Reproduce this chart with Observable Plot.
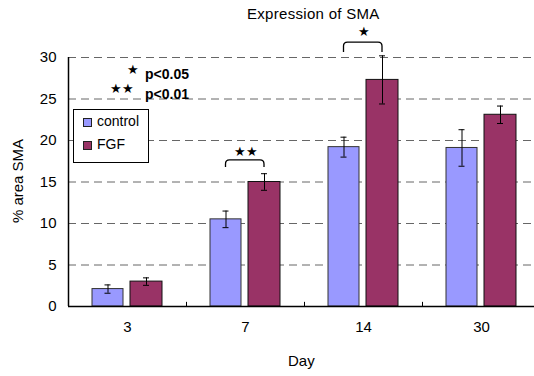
<!DOCTYPE html>
<html>
<head>
<meta charset="utf-8">
<script src="https://cdn.jsdelivr.net/npm/d3@7"></script>
<script src="https://cdn.jsdelivr.net/npm/@observablehq/plot@0.6"></script>
<style>
  html, body { margin: 0; padding: 0; background: #fff; }
  #wrap { position: relative; width: 534px; height: 376px; overflow: hidden; font-family: "Liberation Sans", Arial, sans-serif; }
  .ov { position: absolute; white-space: nowrap; color: #000; }
  #legend { position: absolute; left: 73px; top: 109px; width: 76px; height: 54px; border: 1px solid #000; background: #fff; box-sizing: border-box; }
  .sw { position: absolute; width: 9px; height: 9px; border: 1px solid #222; box-sizing: border-box; }
</style>
</head>
<body>
<div id="wrap"></div>
<script>
const days = ["3", "7", "14", "30"];
const controlMean = [2.1, 10.5, 19.2, 19.1];
const controlErr  = [0.5, 1.0, 1.2, 2.2];
const fgfMean     = [3.0, 15.0, 27.3, 23.1];
const fgfErr      = [0.45, 1.0, 2.9, 1.05];
const yTicks = [0, 5, 10, 15, 20, 25, 30];
const seriesNames = ["control", "FGF"];
const seriesColors = ["#9999FF", "#993366"];
const brackets = [
  {day: "7", top: 17.6, foot: 16.75, stars: "★★", starY: 18.6},
  {day: "14", top: 31.8, foot: 30.6, stars: "★", starY: 33.1}
];
const pNotes = [{stars: "★", text: "p<0.05"}, {stars: "★★", text: "p<0.01"}];

const control = days.map((d, i) => ({day: d, value: controlMean[i], err: controlErr[i]}));
const fgf = days.map((d, i) => ({day: d, value: fgfMean[i], err: fgfErr[i]}));

function bracketMark(index, scales) {
  const g = d3.create("svg:g");
  const bw = scales.x.bandwidth ? scales.x.bandwidth() : 118;
  for (const b of brackets) {
    const cx = scales.x(b.day) + bw / 2;
    const x1 = cx - 19.5, x2 = cx + 19;
    const yt = scales.y(b.top), yb = scales.y(b.foot);
    const r = 4;
    g.append("path")
      .attr("d", `M${x1},${yb}L${x1},${yt + r}Q${x1},${yt} ${x1 + r},${yt}L${x2 - r},${yt}Q${x2},${yt} ${x2},${yt + r}L${x2},${yb}`)
      .attr("fill", "none").attr("stroke", "#000").attr("stroke-width", 1.3);
  }
  return g.node();
}

const chart = Plot.plot({
  width: 534,
  height: 376,
  marginTop: 57,
  marginBottom: 70,
  marginLeft: 68,
  marginRight: 0,
  style: {fontFamily: "Liberation Sans, Arial, sans-serif", fontSize: "15px", background: "#fff", color: "#000"},
  x: {type: "band", domain: days, range: [68, 540], padding: 0, label: null},
  y: {domain: [0, 30], label: null},
  marks: [
    Plot.ruleY(yTicks.filter(t => t > 0), {stroke: "#666", strokeDasharray: "8,5", strokeWidth: 1}),
    Plot.barY(control, {x: "day", y: "value", fill: seriesColors[0], stroke: "#333", strokeWidth: 1, insetLeft: 24, insetRight: 63}),
    Plot.barY(fgf, {x: "day", y: "value", fill: seriesColors[1], stroke: "#111", strokeWidth: 1, insetLeft: 62, insetRight: 24}),
    Plot.ruleX(control, {x: "day", y1: d => d.value - d.err, y2: d => d.value + d.err, dx: -19.5, stroke: "#000"}),
    Plot.tickY(control, {x: "day", y: d => d.value + d.err, insetLeft: 36.5, insetRight: 75.5, stroke: "#000"}),
    Plot.tickY(control, {x: "day", y: d => d.value - d.err, insetLeft: 36.5, insetRight: 75.5, stroke: "#000"}),
    Plot.ruleX(fgf, {x: "day", y1: d => d.value - d.err, y2: d => d.value + d.err, dx: 19, stroke: "#000"}),
    Plot.tickY(fgf, {x: "day", y: d => d.value + d.err, insetLeft: 75, insetRight: 37, stroke: "#000"}),
    Plot.tickY(fgf, {x: "day", y: d => d.value - d.err, insetLeft: 75, insetRight: 37, stroke: "#000"}),
    Plot.ruleY([0], {stroke: "#000", strokeWidth: 1.5}),
    Plot.ruleX(["3"], {dx: -59, y1: 0, y2: 30, stroke: "#000", strokeWidth: 1.5}),
    Plot.ruleX(["7", "14", "30"], {dx: -59, y1: 0, y2: 0.5, stroke: "#000"}),
    bracketMark,
    Plot.text(brackets, {x: "day", y: "starY", text: "stars", fontSize: 13, fill: "#000"}),
    Plot.axisY({ticks: yTicks, tickSize: 0, tickPadding: 12, label: null, fontSize: 15}),
    Plot.axisX({tickSize: 0, tickPadding: 15, label: null, fontSize: 15})
  ]
});

const wrap = document.getElementById("wrap");
wrap.appendChild(chart);

function ov(text, css) {
  const d = document.createElement("div");
  d.className = "ov";
  d.textContent = text;
  Object.assign(d.style, css);
  wrap.appendChild(d);
  return d;
}
ov("Expression of SMA", {left: "247px", top: "5px", fontSize: "15px", letterSpacing: "0.3px"});
ov("Day", {left: "288px", top: "352px", fontSize: "15px"});
ov("% area SMA", {left: "17px", top: "181px", fontSize: "15px", transform: "translate(-50%,-50%) rotate(-90deg)"});
ov(pNotes[0].stars, {left: "127px", top: "62px", fontSize: "13px"});
ov(pNotes[0].text, {left: "145px", top: "66px", fontSize: "14px", fontWeight: "bold"});
ov(pNotes[1].stars, {left: "110px", top: "81px", fontSize: "13px"});
ov(pNotes[1].text, {left: "145px", top: "86px", fontSize: "14px", fontWeight: "bold"});

const lg = document.createElement("div");
lg.id = "legend";
wrap.appendChild(lg);
seriesNames.forEach((name, i) => {
  const sw = document.createElement("div");
  sw.className = "sw";
  sw.style.left = "9px";
  sw.style.top = (i === 0 ? 8 : 31) + "px";
  sw.style.background = seriesColors[i];
  lg.appendChild(sw);
  const t = document.createElement("div");
  t.className = "ov";
  t.textContent = name;
  t.style.left = "23px";
  t.style.top = (i === 0 ? 3 : 26) + "px";
  t.style.fontSize = "14px";
  lg.appendChild(t);
});
</script>
</body>
</html>
